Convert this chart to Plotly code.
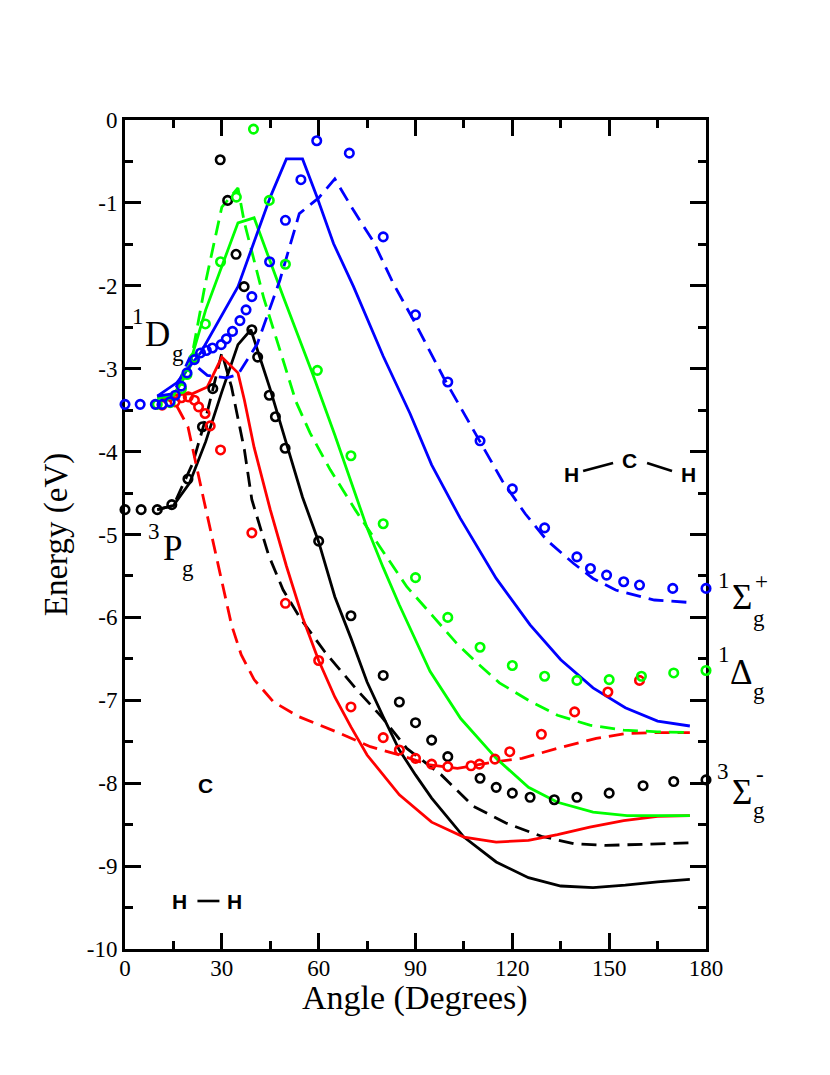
import plotly.graph_objects as go

# curves
black_x = [10, 15, 20, 25, 30, 35, 39, 45, 50, 55, 60, 65, 70, 75, 80, 85, 90, 95, 105, 115, 125, 135, 145, 155, 165, 175]
black_y = [-4.7, -4.65, -4.38, -3.88, -3.28, -2.71, -2.53, -3.25, -3.9, -4.55, -5.09, -5.75, -6.25, -6.78, -7.2, -7.6, -7.9, -8.18, -8.65, -8.95, -9.14, -9.24, -9.26, -9.23, -9.19, -9.16]
black_dash_x = [10, 15, 21, 25, 30, 33, 37, 39.3, 44.5, 49, 54.3, 62, 72, 79.5, 87.3, 98, 108, 118, 129, 139, 149, 160, 175]
black_dash_y = [-4.7, -4.65, -4.14, -3.6, -2.81, -3.22, -3.98, -4.58, -5.25, -5.67, -6.01, -6.42, -6.88, -7.2, -7.58, -7.9, -8.28, -8.48, -8.64, -8.73, -8.75, -8.74, -8.72]

red_x = [10, 21, 25.5, 30, 35, 37, 40, 45, 50, 55, 60, 65, 70, 75, 85, 95, 105, 115, 125, 134, 144, 154.5, 165, 175]
red_y = [-3.33, -3.3, -3.22, -2.86, -3.05, -3.38, -3.95, -4.7, -5.38, -6.0, -6.52, -6.96, -7.32, -7.66, -8.14, -8.47, -8.65, -8.71, -8.69, -8.62, -8.53, -8.45, -8.4, -8.39]
red_dash_x = [10, 15.5, 19.5, 22.5, 24.4, 29, 33, 36, 40, 46, 54, 66.7, 76, 85, 94.5, 103, 115, 123, 134, 146, 155.5, 165, 175]
red_dash_y = [-3.33, -3.41, -3.7, -4.26, -4.58, -5.39, -6.09, -6.45, -6.75, -7.02, -7.2, -7.4, -7.56, -7.66, -7.78, -7.82, -7.74, -7.7, -7.58, -7.46, -7.4, -7.39, -7.39]

green_x = [10, 15, 20, 25, 35, 40, 49, 58, 65, 70, 75, 80, 85, 94.5, 104, 115, 125, 134, 145, 155.5, 165, 175]
green_y = [-3.35, -3.33, -2.95, -2.29, -1.24, -1.18, -2.13, -3.05, -3.8, -4.35, -4.92, -5.4, -5.85, -6.65, -7.22, -7.7, -8.05, -8.23, -8.35, -8.39, -8.39, -8.39]
green_dash_x = [10, 15, 20, 25, 30, 35, 37, 43, 53, 57.4, 63.6, 71.3, 79, 87.3, 95.5, 102.7, 108, 116, 125, 134, 144, 154.5, 165, 175]
green_dash_y = [-3.35, -3.33, -3.0, -1.95, -1.05, -0.82, -1.24, -2.15, -3.4, -3.78, -4.22, -4.7, -5.15, -5.63, -5.99, -6.31, -6.51, -6.79, -7.0, -7.18, -7.3, -7.36, -7.38, -7.39]

blue_x = [10, 16, 23.4, 35, 45, 50, 55, 59.4, 64.6, 70.8, 80, 88.3, 95, 103.8, 115, 125.5, 135, 145, 155, 165, 175]
blue_y = [-3.33, -3.17, -2.81, -2.01, -0.93, -0.47, -0.47, -0.92, -1.49, -2.01, -2.85, -3.54, -4.16, -4.8, -5.53, -6.09, -6.51, -6.85, -7.09, -7.25, -7.31]
blue_dash_x = [10, 15, 20, 23, 25.5, 31.5, 35, 41, 48, 54, 60, 65, 70.8, 77, 83.1, 89.9, 98.6, 108, 117, 124, 130.7, 139, 145, 152, 164, 175]
blue_dash_y = [-3.33, -3.3, -2.87, -3.0, -3.08, -3.11, -3.07, -2.7, -1.93, -1.13, -0.94, -0.71, -1.09, -1.47, -1.97, -2.45, -3.1, -3.74, -4.36, -4.75, -5.07, -5.35, -5.53, -5.67, -5.79, -5.82]

# circles
black_pts_x = [0, 5, 10, 14.5, 19.5, 24, 27.2, 29.5, 31.8, 34.4, 36.9, 39.3, 41.1, 44.7, 46.6, 49.6, 60, 70, 80, 85, 90, 95, 100, 110, 115, 120, 125.5, 133, 140, 150, 160.5, 170, 180]
black_pts_y = [-4.7, -4.7, -4.7, -4.64, -4.33, -3.7, -3.24, -0.48, -0.97, -1.62, -2.01, -2.53, -2.86, -3.32, -3.58, -3.96, -5.08, -5.98, -6.7, -7.02, -7.27, -7.48, -7.68, -7.94, -8.05, -8.12, -8.17, -8.2, -8.17, -8.12, -8.03, -7.98, -7.96]
red_pts_x = [11.5, 15.5, 17.5, 19.6, 21.5, 22.8, 24.8, 26.4, 29.6, 39.3, 49.7, 60, 70, 80, 85, 90, 95, 100, 107.2, 109.8, 114.6, 119.2, 129, 139.3, 149.6, 159.4]
red_pts_y = [-3.44, -3.4, -3.35, -3.34, -3.38, -3.46, -3.54, -3.69, -3.98, -4.98, -5.83, -6.52, -7.08, -7.45, -7.6, -7.7, -7.77, -7.8, -7.79, -7.77, -7.71, -7.62, -7.41, -7.14, -6.9, -6.76]
green_pts_x = [10, 14, 17.5, 19.2, 21.5, 24.9, 29.6, 34.5, 39.8, 44.7, 49.7, 59.6, 70, 80, 90, 100, 110, 120, 130, 140, 150, 160, 170, 180]
green_pts_y = [-3.43, -3.41, -3.24, -3.07, -2.87, -2.46, -1.71, -0.93, -0.11, -0.97, -1.74, -3.02, -4.05, -4.87, -5.52, -6.0, -6.36, -6.58, -6.71, -6.76, -6.75, -6.71, -6.67, -6.64]
blue_pts_x = [0, 4.7, 9.4, 11.5, 13.9, 15.6, 17.4, 19.2, 21.5, 23.4, 25.2, 27.1, 29.8, 31.4, 33.3, 35.6, 37.5, 39.3, 44.8, 49.7, 54.5, 59.4, 69.5, 80, 90, 100, 110, 120, 130, 140, 144.2, 149.2, 154.5, 159.4, 169.7, 180]
blue_pts_y = [-3.43, -3.43, -3.43, -3.43, -3.4, -3.32, -3.21, -3.05, -2.89, -2.81, -2.78, -2.75, -2.71, -2.64, -2.55, -2.42, -2.29, -2.13, -1.71, -1.21, -0.72, -0.25, -0.4, -1.41, -2.35, -3.16, -3.87, -4.45, -4.92, -5.27, -5.41, -5.49, -5.57, -5.61, -5.65, -5.65]

x_ticks = [0, 30, 60, 90, 120, 150, 180]
y_ticks = [0, -1, -2, -3, -4, -5, -6, -7, -8, -9, -10]
y_labels = ['0', '-1', '-2', '-3', '-4', '-5', '-6', '-7', '-8', '-9', '-10']

BLACK = '#000000'
RED = '#ff0000'
GREEN = '#00ff00'
BLUE = '#0000ff'
DASH = '15px,8px'

fig = go.Figure()

for xs, ys, color, dash in [
    (black_x, black_y, BLACK, 'solid'),
    (black_dash_x, black_dash_y, BLACK, DASH),
    (red_x, red_y, RED, 'solid'),
    (red_dash_x, red_dash_y, RED, DASH),
    (green_x, green_y, GREEN, 'solid'),
    (green_dash_x, green_dash_y, GREEN, DASH),
    (blue_x, blue_y, BLUE, 'solid'),
    (blue_dash_x, blue_dash_y, BLUE, DASH),
]:
    fig.add_trace(go.Scatter(x=xs, y=ys, mode='lines', cliponaxis=False,
                             line=dict(color=color, width=2.8, dash=dash)))

for xs, ys, color in [
    (black_pts_x, black_pts_y, BLACK),
    (red_pts_x, red_pts_y, RED),
    (green_pts_x, green_pts_y, GREEN),
    (blue_pts_x, blue_pts_y, BLUE),
]:
    fig.add_trace(go.Scatter(x=xs, y=ys, mode='markers', cliponaxis=False,
                             marker=dict(symbol='circle-open', size=8.5, color=color, line=dict(width=2.6, color=color))))

# page body has an 8px margin, positions below are page pixels
W, H = 814, 1059


def px(x):
    return (x - 124.5) / (706 - 124.5)


def py(y):
    return (949 - y) / (949 - 120)


def label(text, x, y, size, family='Liberation Serif', bold=False):
    fig.add_annotation(text='<b>%s</b>' % text if bold else text, x=px(x), y=py(y), xref='paper', yref='paper',
                       showarrow=False, xanchor='center', yanchor='middle',
                       font=dict(family=family, size=size, color='black'))


# state labels
for text, x, y, size in [
    ('1', 138, 316, 23), ('D', 157, 334, 35), ('g', 178, 353, 23),
    ('3', 154, 531, 23), ('P', 172, 548, 35), ('g', 188, 568, 23),
    ('1', 724, 580, 23), ('Σ', 742, 597, 35), ('g', 759, 618, 23), ('+', 762, 581, 23),
    ('1', 724, 654, 23), ('Δ', 742, 672, 35), ('g', 759, 691, 23),
    ('3', 723, 771, 23), ('Σ', 742, 792, 35), ('g', 759, 810, 23), ('-', 760, 774, 23),
]:
    label(text, x, y, size)

# molecule sketches
for text, x, y in [('C', 205, 785), ('H', 179, 901), ('H', 234, 901), ('H', 571, 474), ('C', 629, 460), ('H', 688, 474)]:
    label(text, x, y, 21, family='Liberation Sans', bold=True)

for x0, y0, x1, y1 in [(197, 901, 219, 901), (583, 471, 613, 463), (647, 463, 672, 471)]:
    fig.add_shape(type='line', xref='paper', yref='paper', x0=px(x0), y0=py(y0), x1=px(x1), y1=py(y1),
                  line=dict(color='black', width=2.6))

# x title sits closer to the tick labels than standoff allows
label('Angle (Degrees)', 415, 998, 34)

axis_style = dict(
    showgrid=False, zeroline=False, showline=True, linecolor='black', linewidth=3,
    mirror='allticks', ticks='inside', ticklen=16, tickwidth=2.5, tickcolor='black',
    layer='below traces',
    tickfont=dict(family='Liberation Serif', size=23, color='black'),
)

fig.update_xaxes(
    range=[0, 180], tickmode='array', tickvals=x_ticks, ticklabelstandoff=-4,
    minor=dict(dtick=15, ticks='inside', ticklen=8, tickwidth=2.5, tickcolor='black', showgrid=False),
    **axis_style)
fig.update_yaxes(
    range=[-10, 0], tickmode='array', tickvals=y_ticks, ticktext=y_labels,
    minor=dict(dtick=0.5, ticks='inside', ticklen=8, tickwidth=2.5, tickcolor='black', showgrid=False),
    title=dict(text='Energy (eV)', font=dict(family='Liberation Serif', size=33, color='black'), standoff=10),
    **axis_style)

fig.update_layout(
    width=W, height=H, showlegend=False,
    margin=dict(l=116.5, r=W - (706 - 8), t=112, b=H - (949 - 8), autoexpand=False),
    paper_bgcolor='white', plot_bgcolor='white',
)

fig.write_html("out.html")
